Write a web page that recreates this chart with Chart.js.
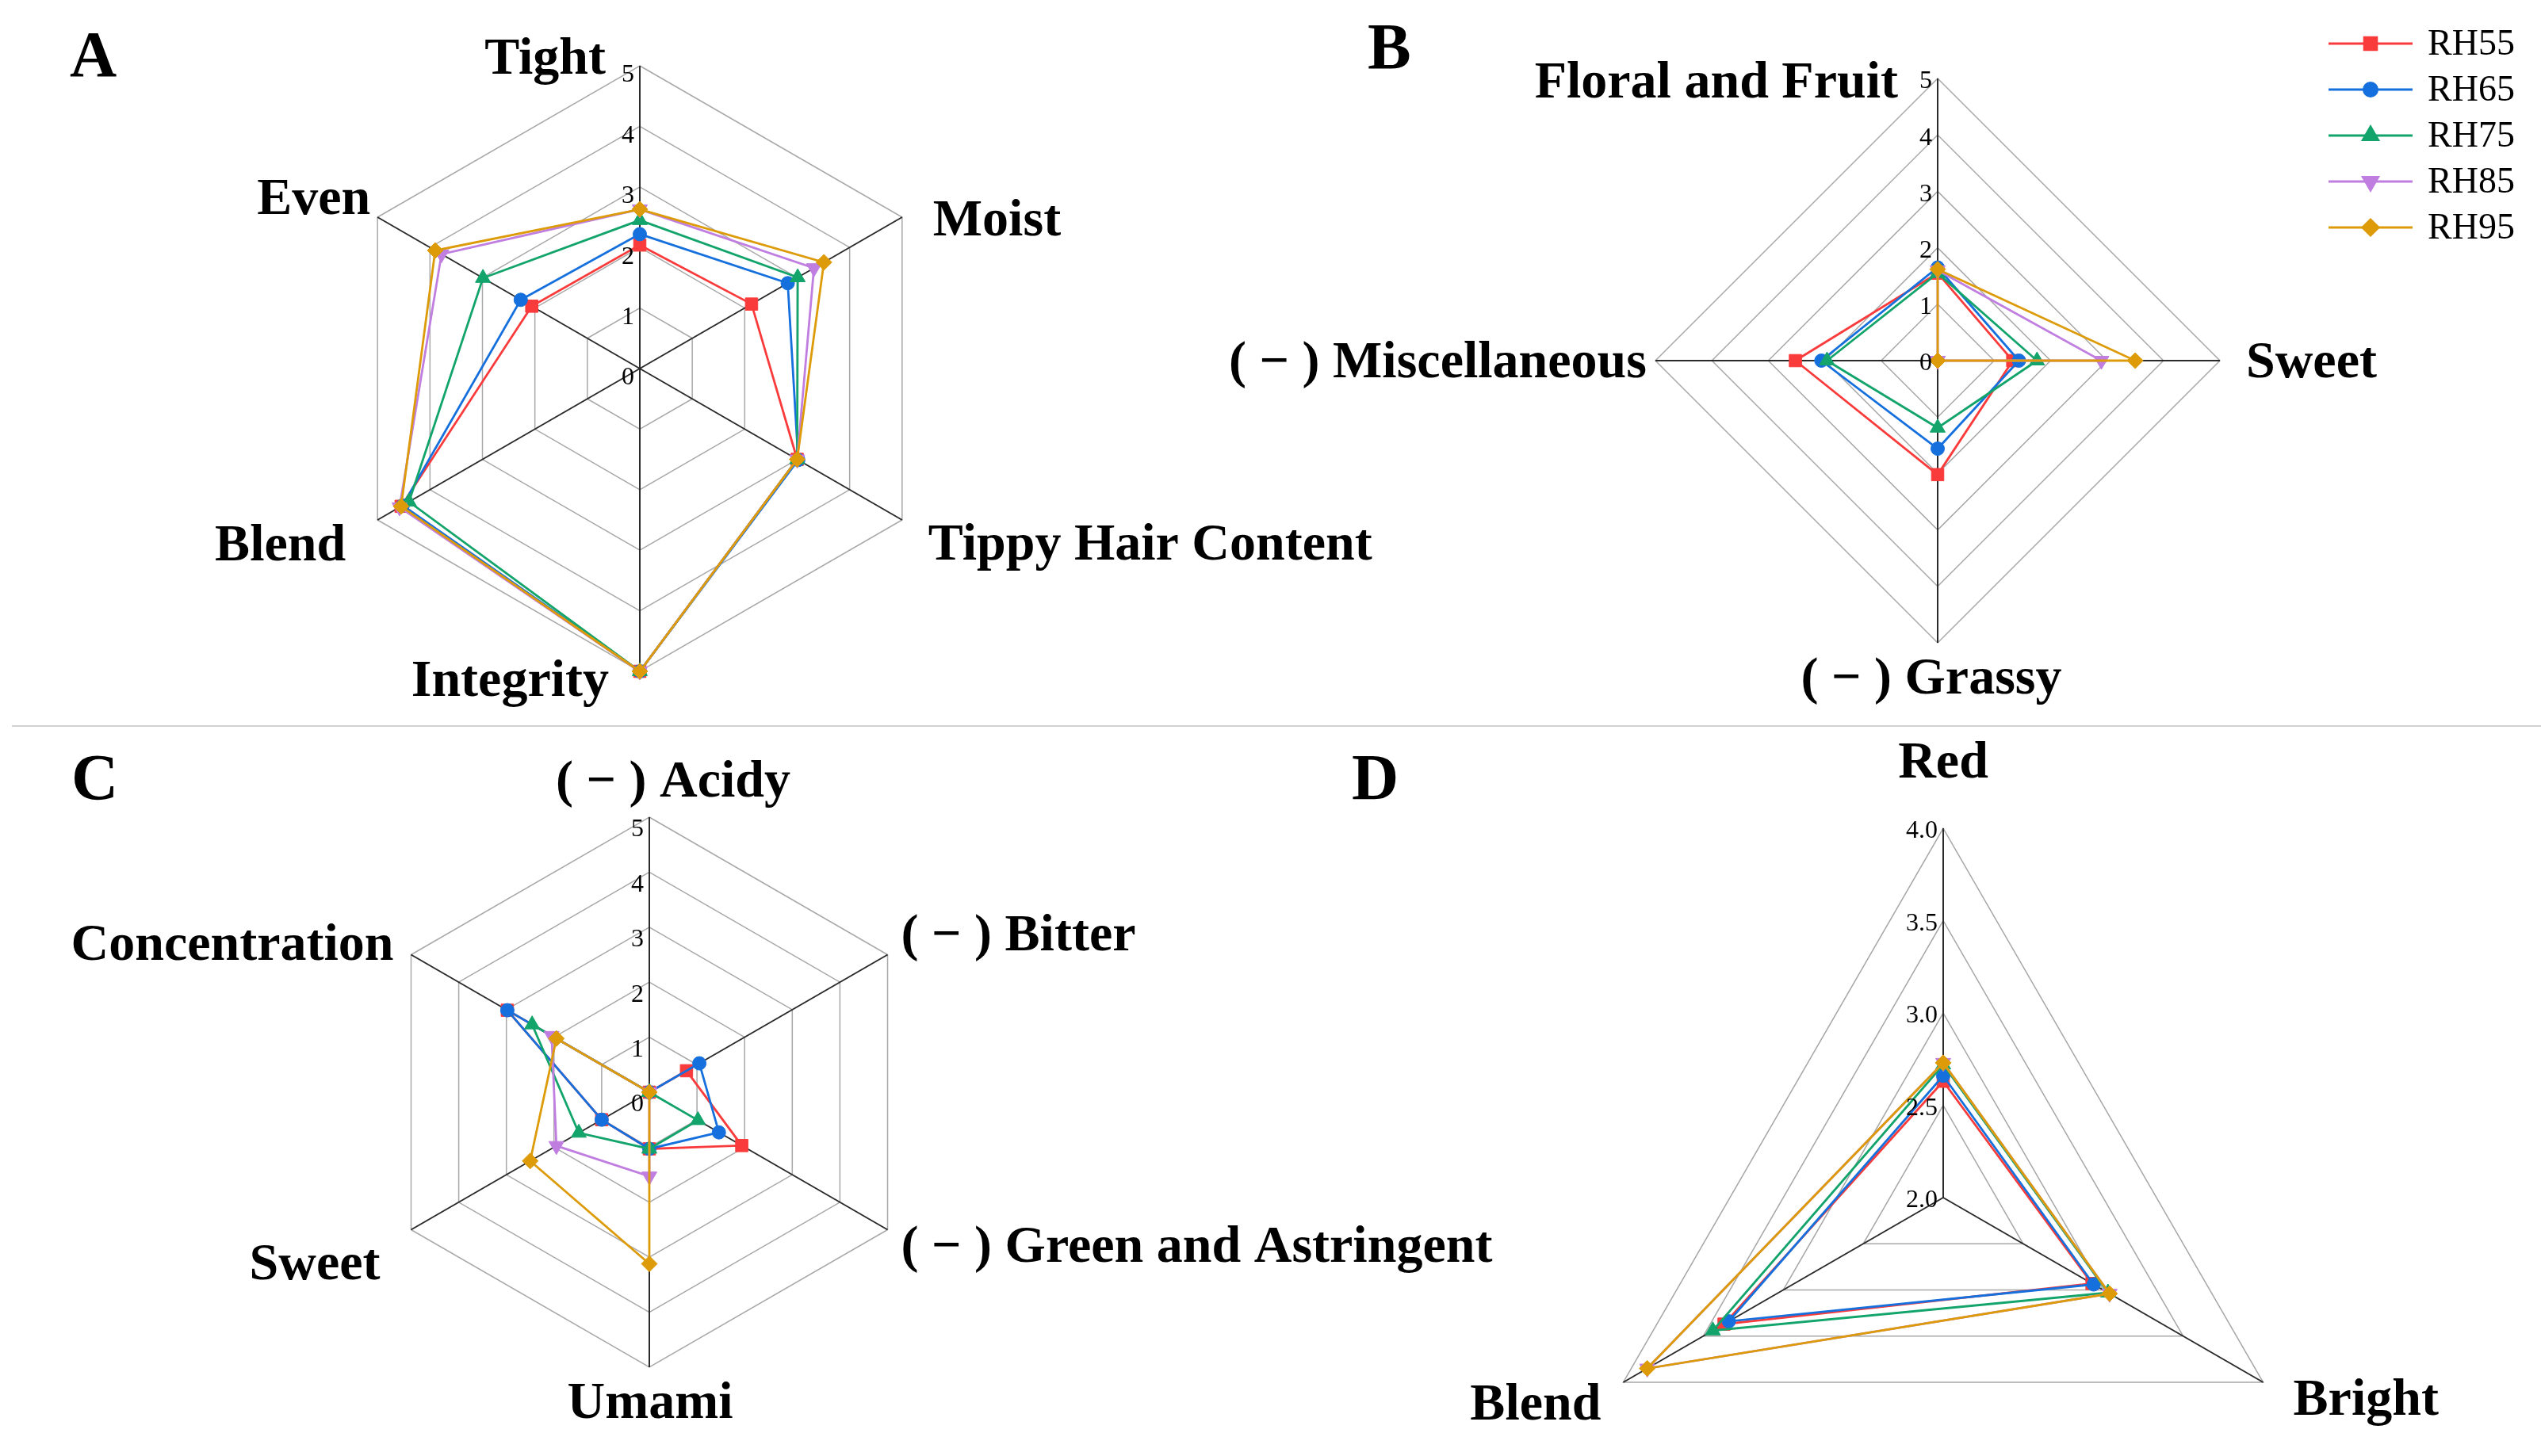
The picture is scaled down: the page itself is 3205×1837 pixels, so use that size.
<!DOCTYPE html>
<html>
<head>
<meta charset="utf-8">
<title>Sensory radar charts</title>
<script src="https://cdn.jsdelivr.net/npm/chart.js@4.4.1/dist/chart.umd.min.js"></script>
<style>
  html, body { margin: 0; padding: 0; background: #fff; }
  body { width: 3205px; height: 1837px; position: relative; overflow: hidden; }
  canvas { position: absolute; left: 0; top: 0; }
  #sep { position: absolute; left: 15px; top: 915px; width: 3190px; height: 2px; background: #d2d2d2; }
</style>
</head>
<body>
<div id="sep"></div>
<canvas id="chartA" width="3205" height="1837"></canvas>
<canvas id="chartB" width="3205" height="1837"></canvas>
<canvas id="chartC" width="3205" height="1837"></canvas>
<canvas id="chartD" width="3205" height="1837"></canvas>
<script>
// series
const series = ['RH55', 'RH65', 'RH75', 'RH85', 'RH95'];
const colors = ['#fa3b3b', '#1570de', '#13a46b', '#c07ee0', '#dd9b0a'];
const markers = ['rect', 'circle', 'triangle', 'triangle', 'rectRot'];
const markerRot = [0, 0, 0, 180, 0];
const markerSize = [11, 8.5, 11, 11, 10];

// A: appearance
const appearanceLabels = ['Tight', 'Moist', 'Tippy Hair Content', 'Integrity', 'Blend', 'Even'];
const appearanceValues = [
    [2.04, 2.13, 3.00, 5.00, 4.55, 2.06],
    [2.22, 2.82, 3.02, 5.00, 4.52, 2.27],
    [2.45, 3.01, 3.00, 5.00, 4.40, 2.99],
    [2.63, 3.32, 3.00, 5.00, 4.58, 3.78],
    [2.63, 3.51, 3.00, 5.00, 4.55, 3.90]
];

// B: aroma
const aromaLabels = ['Floral and Fruit', 'Sweet', '( \u2212 ) Grassy', '( \u2212 ) Miscellaneous'];
const aromaValues = [
    [1.55, 1.33, 2.02, 2.52],
    [1.65, 1.44, 1.56, 2.06],
    [1.55, 1.76, 1.19, 1.96],
    [1.60, 2.90, 0.00, 0.00],
    [1.62, 3.50, 0.00, 0.00]
];

// C: taste
const tasteLabels = ['( \u2212 ) Acidy', '( \u2212 ) Bitter', '( \u2212 ) Green and Astringent', 'Umami', 'Sweet', 'Concentration'];
const tasteValues = [
    [0.00, 0.78, 1.94, 1.03, 1.00, 2.98],
    [0.00, 1.05, 1.46, 1.03, 1.00, 2.98],
    [0.00, 0.00, 1.02, 1.03, 1.48, 2.46],
    [0.00, 0.00, 0.00, 1.53, 1.95, 2.05],
    [0.00, 0.00, 0.00, 3.12, 2.50, 1.95]
];

// D: liquor colour
const liquorLabels = ['Red', 'Bright', 'Blend'];
const liquorValues = [
    [2.63, 2.93, 3.37],
    [2.66, 2.94, 3.34],
    [2.72, 3.03, 3.44],
    [2.73, 3.04, 3.85],
    [2.73, 3.04, 3.85]
];

// tick labels
const scoreTicks = ['0', '1', '2', '3', '4', '5'];
const liquorTicks = ['2.0', '2.5', '3.0', '3.5', '4.0'];

const SERIF = '"Liberation Serif", "Times New Roman", serif';

const panelText = {
    id: 'panelText',
    afterDraw(chart, args, opts) {
        const ctx = chart.ctx;
        const s = chart.scales.r;
        ctx.save();
        ctx.fillStyle = '#000';
        ctx.textBaseline = 'alphabetic';

        // panel letter
        ctx.font = 'bold 82px ' + SERIF;
        ctx.textAlign = 'left';
        ctx.fillText(opts.letter, opts.letterAt[0], opts.letterAt[1]);

        // axis names, placed from the outer vertex of each spoke
        ctx.font = 'bold 66px ' + SERIF;
        chart.data.labels.forEach((lab, i) => {
            const p = s.getPointPosition(i, s.drawingArea);
            const [align, dx, dy] = opts.labelPos[i];
            ctx.textAlign = align;
            ctx.fillText(lab, p.x + dx, p.y + dy);
        });

        // tick values, left of the top spoke
        ctx.font = '32px ' + SERIF;
        ctx.textAlign = 'right';
        ctx.textBaseline = 'middle';
        opts.ticks.forEach(t => {
            const d = s.getDistanceFromCenterForValue(parseFloat(t));
            ctx.fillText(t, s.xCenter - 7, s.yCenter - d + opts.tickDy);
        });

        // legend
        if (opts.legend) {
            chart.data.datasets.forEach((ds, i) => {
                const y = 55 + i * 58;
                ctx.strokeStyle = ds.borderColor;
                ctx.fillStyle = ds.borderColor;
                ctx.lineWidth = 3;
                ctx.beginPath();
                ctx.moveTo(2937, y);
                ctx.lineTo(3043, y);
                ctx.stroke();
                Chart.helpers.drawPoint(ctx, {
                    pointStyle: ds.pointStyle,
                    rotation: ds.pointRotation,
                    radius: ds.pointRadius,
                    borderWidth: 1
                }, 2990, y);
                ctx.fillStyle = '#000';
                ctx.font = '46px ' + SERIF;
                ctx.textAlign = 'left';
                ctx.textBaseline = 'middle';
                ctx.fillText(ds.label, 3062, y + 2);
            });
        }
        ctx.restore();
    }
};

const makeRadar = (canvasId, labels, values, cfg) => {
    const ctx = document.getElementById(canvasId);
    return new Chart(ctx, {
        type: 'radar',
        data: {
            labels: labels,
            datasets: values.map((v, i) => ({
                label: series[i],
                data: v,
                borderColor: colors[i],
                backgroundColor: colors[i],
                pointBackgroundColor: colors[i],
                pointBorderColor: colors[i],
                pointStyle: markers[i],
                pointRotation: markerRot[i],
                pointRadius: markerSize[i],
                pointBorderWidth: 1,
                borderWidth: 2.8,
                fill: false,
                order: values.length - i
            }))
        },
        options: {
            responsive: false,
            animation: false,
            devicePixelRatio: 1,
            plugins: {
                legend: { display: false },
                tooltip: { enabled: false },
                panelText: cfg.text
            },
            scales: {
                r: {
                    min: cfg.min,
                    max: cfg.max,
                    ticks: { display: false, stepSize: cfg.step },
                    pointLabels: { display: false },
                    grid: { color: '#a8a8a8', lineWidth: 1.5 },
                    angleLines: { color: '#2a2a2a', lineWidth: 2 },
                    // pin the centre and radius of each panel on the page
                    afterFit: (scale) => {
                        scale.xCenter = cfg.cx;
                        scale.yCenter = cfg.cy;
                        scale.drawingArea = cfg.radius;
                    }
                }
            }
        },
        plugins: [panelText]
    });
};

makeRadar('chartA', appearanceLabels, appearanceValues, {
    cx: 807, cy: 465, radius: 382, min: 0, max: 5, step: 1,
    text: {
        letter: 'A', letterAt: [88, 96],
        labelPos: [['right', -43, 10], ['left', 39, 23], ['left', 33, 50],
                   ['right', -39, 31], ['right', -40, 51], ['right', -9, -4]],
        ticks: scoreTicks, tickDy: 12
    }
});

makeRadar('chartB', aromaLabels, aromaValues, {
    cx: 2444, cy: 455, radius: 356, min: 0, max: 5, step: 1,
    text: {
        letter: 'B', letterAt: [1725, 86],
        labelPos: [['right', -50, 24], ['left', 33, 21], ['center', -8, 64], ['right', -11, 21]],
        ticks: scoreTicks, tickDy: 4, legend: true
    }
});

makeRadar('chartC', tasteLabels, tasteValues, {
    cx: 819, cy: 1378, radius: 347, min: 0, max: 5, step: 1,
    text: {
        letter: 'C', letterAt: [90, 1008],
        labelPos: [['center', 30, -26], ['left', 17, -6], ['left', 17, 40],
                   ['center', 1, 64], ['right', -39, 62], ['right', -22, 6]],
        ticks: scoreTicks, tickDy: 16
    }
});

makeRadar('chartD', liquorLabels, liquorValues, {
    cx: 2451, cy: 1511, radius: 466, min: 2, max: 4, step: 0.5,
    text: {
        letter: 'D', letterAt: [1705, 1008],
        labelPos: [['center', 0, -64], ['left', 38, 41], ['right', -28, 47]],
        ticks: liquorTicks, tickDy: 4
    }
});
</script>
</body>
</html>
